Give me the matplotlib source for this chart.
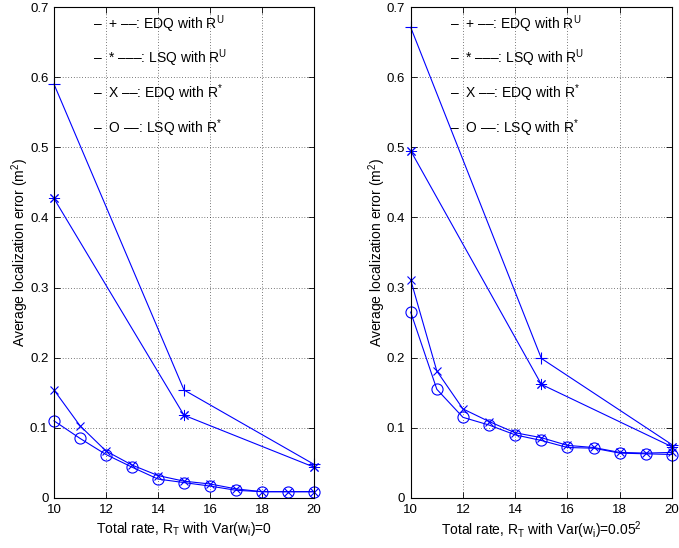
import matplotlib
matplotlib.use("Agg")
import matplotlib.pyplot as plt

plt.rcParams['font.family'] = ['Liberation Sans', 'DejaVu Sans']
plt.rcParams['mathtext.fontset'] = 'custom'
plt.rcParams['mathtext.rm'] = 'Liberation Sans'
plt.rcParams['mathtext.it'] = 'Liberation Sans'
plt.rcParams['mathtext.bf'] = 'Liberation Sans'
plt.rcParams['font.size'] = 9

# ---- data ----
x_coarse = [10, 15, 20]
x_fine = [10, 11, 12, 13, 14, 15, 16, 17, 18, 19, 20]

# left panel: Var(w_i)=0
left_edq_ru = [0.590, 0.154, 0.048]
left_lsq_ru = [0.427, 0.118, 0.044]
left_edq_rs = [0.154, 0.103, 0.067, 0.047, 0.032, 0.024, 0.020, 0.013, 0.009, 0.009, 0.009]
left_lsq_rs = [0.110, 0.085, 0.062, 0.044, 0.027, 0.022, 0.017, 0.011, 0.009, 0.009, 0.009]

# right panel: Var(w_i)=0.05^2
right_edq_ru = [0.671, 0.199, 0.076]
right_lsq_ru = [0.495, 0.162, 0.073]
right_edq_rs = [0.311, 0.181, 0.127, 0.109, 0.093, 0.086, 0.075, 0.072, 0.065, 0.064, 0.065]
right_lsq_rs = [0.265, 0.155, 0.115, 0.104, 0.090, 0.082, 0.072, 0.071, 0.064, 0.063, 0.062]

legend_texts = [
    '\u2013  + \u2013\u2013: EDQ with R$^{\\mathrm{U}}$',
    '\u2013  * \u2013\u2013\u2013: LSQ with R$^{\\mathrm{U}}$',
    '\u2013  X \u2013\u2013: EDQ with R$^{*}$',
    '\u2013  O \u2013\u2013: LSQ with R$^{*}$',
]
xlabels = [r'Total rate, R$_{\mathrm{T}}$ with Var(w$_{\mathrm{i}}$)=0',
           r'Total rate, R$_{\mathrm{T}}$ with Var(w$_{\mathrm{i}}$)=0.05$^{2}$']
ylabel = r'Average localization error (m$^{2}$)'
xticks = [10, 12, 14, 16, 18, 20]
yticks = [0, 0.1, 0.2, 0.3, 0.4, 0.5, 0.6, 0.7]
yticklabels = ['0', '0.1', '0.2', '0.3', '0.4', '0.5', '0.6', '0.7']

fig = plt.figure(figsize=(6.79, 5.48), dpi=100)
W, H = 679, 548
ax1 = fig.add_axes([54 / W, (H - 498) / H, 260 / W, 491 / H])
ax2 = fig.add_axes([410.7 / W, (H - 498) / H, 261.3 / W, 491 / H])

panels = [
    (ax1, left_edq_ru, left_lsq_ru, left_edq_rs, left_lsq_rs, xlabels[0]),
    (ax2, right_edq_ru, right_lsq_ru, right_edq_rs, right_lsq_rs, xlabels[1]),
]
blue = (0, 0, 1)
lw = 0.8
for ax, eru, lru, ers, lrs, xl in panels:
    ax.plot(x_coarse, eru, color=blue, lw=lw, marker='+', ms=8, mew=0.8, clip_on=False)
    ax.plot(x_coarse, lru, color=blue, lw=lw, marker=(8, 2, 0), ms=8, mew=0.7, clip_on=False)
    ax.plot(x_fine, ers, color=blue, lw=lw, marker='x', ms=6, mew=0.8, clip_on=False)
    ax.plot(x_fine, lrs, color=blue, lw=lw, marker='o', ms=8, mew=0.8,
            markerfacecolor='none', clip_on=False)
    ax.set_xlim(10, 20)
    ax.set_ylim(0, 0.7)
    ax.set_xticks(xticks)
    ax.set_yticks(yticks)
    ax.set_yticklabels(yticklabels)
    ax.tick_params(direction='in', top=True, right=True, length=4, width=0.6,
                   labelsize=9.5, pad=4)
    ax.grid(True, linestyle=(0, (1, 3)), color='black', linewidth=0.5)
    for s in ax.spines.values():
        s.set_linewidth(0.8)
    ax.set_xlabel(xl, fontsize=10, labelpad=3)
    ax.set_ylabel(ylabel, fontsize=10, labelpad=-1)
    for i, t in enumerate(legend_texts):
        ax.text(11.5, 0.676 - 0.0497 * i, t, fontsize=10, va='center', ha='left')

fig.savefig('out.png', dpi=100)
